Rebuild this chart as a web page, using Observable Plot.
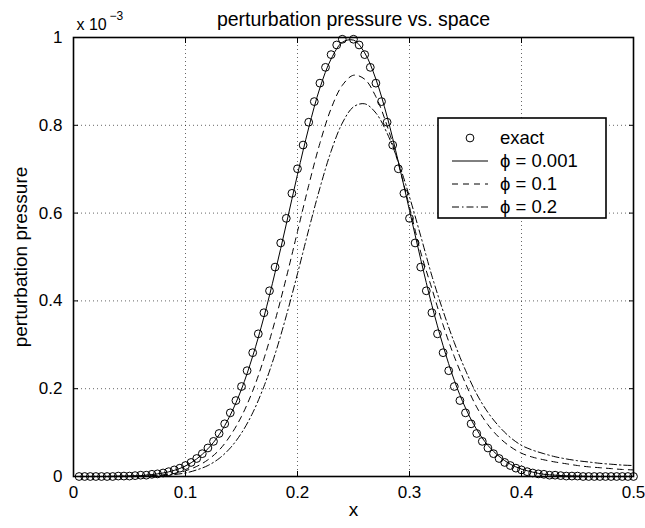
<!DOCTYPE html>
<html><head><meta charset="utf-8">
<script src="https://cdn.jsdelivr.net/npm/d3@7"></script>
<script src="https://cdn.jsdelivr.net/npm/@observablehq/plot@0.6"></script>
<style>body{margin:0;background:#fff;}</style>
</head><body><div id="chart"></div>
<script>
// ---- data (y in units of 1e-3) ----
const exactX = [0.005,0.01,0.015,0.02,0.025,0.03,0.035,0.04,0.045,0.05,0.055,0.06,0.065,0.07,0.075,0.08,0.085,0.09,0.095,0.1,
  0.105,0.11,0.115,0.12,0.125,0.13,0.135,0.14,0.145,0.15,0.155,0.16,0.165,0.17,0.175,0.18,0.185,0.19,0.195,0.2,
  0.205,0.21,0.215,0.22,0.225,0.23,0.235,0.24,
  0.25,0.255,0.26,0.265,0.27,0.275,0.28,0.285,0.29,0.295,0.3,0.305,0.31,0.315,0.32,0.325,0.33,0.335,0.34,0.345,
  0.35,0.355,0.36,0.365,0.37,0.375,0.38,0.385,0.39,0.395,0.4,0.405,0.41,0.415,0.42,0.425,0.43,0.435,0.44,0.445,
  0.45,0.455,0.46,0.465,0.47,0.475,0.48,0.485,0.49,0.495,0.5];
const exactY = [0,0,0,0,0,0,0,0.001,0.001,0.001,0.002,0.003,0.003,0.005,0.006,0.008,0.011,0.015,0.019,0.025,
  0.032,0.041,0.052,0.065,0.080,0.098,0.120,0.145,0.173,0.205,0.241,0.282,0.325,0.373,0.423,0.477,0.532,0.588,0.645,0.701,
  0.755,0.807,0.854,0.896,0.932,0.961,0.983,0.996,
  0.996,0.983,0.961,0.932,0.896,0.854,0.807,0.755,0.701,0.645,0.588,0.532,0.477,0.423,0.373,0.325,0.282,0.241,0.205,0.173,
  0.145,0.120,0.098,0.080,0.065,0.052,0.041,0.032,0.025,0.019,0.015,0.011,0.008,0.006,0.005,0.003,0.003,0.002,0.001,0.001,
  0.001,0,0,0,0,0,0,0,0,0,0];
const lineX = [0,0.01,0.02,0.03,0.04,0.05,0.06,0.07,0.08,0.09,0.1,0.11,0.12,0.13,0.14,0.15,0.16,0.17,0.18,0.19,0.2,
  0.21,0.22,0.23,0.24,0.25,0.26,0.27,0.28,0.29,0.3,0.31,0.32,0.33,0.34,0.35,0.36,0.37,0.38,0.39,0.4,
  0.41,0.42,0.43,0.44,0.45,0.46,0.47,0.48,0.49,0.5];
const phi0001 = [0,0,0,0,0.001,0.001,0.002,0.0045,0.008,0.014,0.024,0.040,0.063,0.095,0.140,0.199,0.274,0.363,0.465,0.575,0.688,
  0.794,0.885,0.951,0.989,0.994,0.965,0.905,0.820,0.717,0.606,0.495,0.390,0.298,0.219,0.156,0.107,0.071,0.046,0.028,0.017,
  0.010,0.005,0.003,0.0015,0.001,0,0,0,0,0];
const phi01 = [0,0,0,0,0,0.001,0.001,0.002,0.004,0.007,0.013,0.023,0.038,0.060,0.093,0.137,0.195,0.268,0.355,0.453,0.558,
  0.663,0.759,0.838,0.891,0.914,0.905,0.865,0.799,0.713,0.614,0.511,0.428,0.345,0.273,0.212,0.158,0.118,0.089,0.068,0.053,
  0.044,0.038,0.033,0.029,0.025,0.022,0.020,0.018,0.016,0.015];
const phi02 = [0,0,0,0,0,0,0.001,0.001,0.002,0.0045,0.008,0.015,0.025,0.041,0.065,0.099,0.145,0.205,0.279,0.366,0.462,
  0.562,0.657,0.741,0.805,0.842,0.849,0.828,0.782,0.717,0.637,0.548,0.457,0.377,0.305,0.242,0.188,0.146,0.114,0.089,0.071,
  0.060,0.052,0.045,0.040,0.036,0.033,0.030,0.028,0.026,0.025];
const xTicks = [0,0.1,0.2,0.3,0.4,0.5];
const yTicks = [0,0.2,0.4,0.6,0.8,1];
const seriesNames = ["exact","\u03d5 = 0.001","\u03d5 = 0.1","\u03d5 = 0.2"];
const seriesDash = [null, null, "6,5", "7,3,1.5,3"];
const titleText = "perturbation pressure vs. space";
const xLabel = "x";
const yLabel = "perturbation pressure";

// ---- build ----
const exact = exactX.map((x, i) => ({x, y: exactY[i]}));
const lineSeries = [phi0001, phi01, phi02].map(vals => lineX.map((x, i) => ({x, y: vals[i]})));
const font = "'Liberation Sans', Arial, sans-serif";

const plot = Plot.plot({
  width: 645, height: 528,
  marginLeft: 73, marginRight: 12, marginTop: 37, marginBottom: 52,
  style: {fontFamily: font, fontSize: "17px", background: "#fff", color: "#000"},
  x: {domain: [0, 0.5], label: null},
  y: {domain: [0, 1], label: null},
  marks: [
    Plot.gridX(xTicks.slice(1, -1), {stroke: "#000", strokeOpacity: 0.6, strokeDasharray: "1,3"}),
    Plot.gridY(yTicks.slice(1, -1), {stroke: "#000", strokeOpacity: 0.6, strokeDasharray: "1,3"}),
    Plot.axisX({anchor: "bottom", ticks: xTicks, tickSize: 5, dy: -5, fill: "none", label: null}),
    Plot.axisX({anchor: "top", ticks: xTicks, tickSize: 5, dy: 5, fill: "none", label: null}),
    Plot.axisY({anchor: "left", ticks: yTicks, tickSize: 5, dx: 5, fill: "none", label: null}),
    Plot.axisY({anchor: "right", ticks: yTicks, tickSize: 5, dx: -5, fill: "none", label: null}),
    Plot.axisX({anchor: "bottom", ticks: xTicks, tickSize: 0, tickPadding: 9, stroke: "none", fontSize: 17, tickFormat: d => String(d), label: null}),
    Plot.axisY({anchor: "left", ticks: yTicks, tickSize: 0, tickPadding: 11, stroke: "none", fontSize: 17, tickFormat: d => String(d), label: null}),
    Plot.line(lineSeries[0], {x: "x", y: "y", stroke: "#000", strokeWidth: 1, curve: "catmull-rom"}),
    Plot.line(lineSeries[1], {x: "x", y: "y", stroke: "#000", strokeWidth: 1, strokeDasharray: seriesDash[2], curve: "catmull-rom"}),
    Plot.line(lineSeries[2], {x: "x", y: "y", stroke: "#000", strokeWidth: 1, strokeDasharray: seriesDash[3], curve: "catmull-rom"}),
    Plot.dot(exact, {x: "x", y: "y", r: 3.9, stroke: "#000", strokeWidth: 1, fill: "none"}),
    Plot.frame({stroke: "#000", strokeWidth: 1.6}),
    Plot.text([titleText], {frameAnchor: "top", dy: -25, fontSize: 19.5}),
    Plot.text(["x 10"], {frameAnchor: "top-left", dx: 3, dy: -19, textAnchor: "start", fontSize: 16}),
    Plot.text(["\u22123"], {frameAnchor: "top-left", dx: 36, dy: -26, textAnchor: "start", fontSize: 12}),
    Plot.text([xLabel], {frameAnchor: "bottom", dy: 39, fontSize: 19}),
    Plot.text([yLabel], {frameAnchor: "left", dx: -53, rotate: -90, textAnchor: "middle", fontSize: 19})
  ]
});

// legend
const svg = d3.select(plot);
const lg = svg.append("g").attr("font-family", font).attr("font-size", 18.5).attr("text-anchor", "start");
lg.append("rect").attr("x", 438).attr("y", 118).attr("width", 168).attr("height", 100)
  .attr("fill", "#fff").attr("stroke", "#000").attr("stroke-width", 1.6);
const rowY = [138, 161, 184, 207];
seriesNames.forEach((name, i) => {
  const y = rowY[i];
  if (i === 0) {
    lg.append("circle").attr("cx", 470).attr("cy", y).attr("r", 3.9).attr("fill", "none").attr("stroke", "#000");
  } else {
    lg.append("line").attr("x1", 452).attr("x2", 488).attr("y1", y).attr("y2", y)
      .attr("stroke", "#000").attr("stroke-width", 1).attr("stroke-dasharray", seriesDash[i]);
  }
  lg.append("text").attr("x", 500).attr("y", y).attr("dy", "0.35em").text(name);
});

document.getElementById("chart").appendChild(plot);
</script>
</body></html>
